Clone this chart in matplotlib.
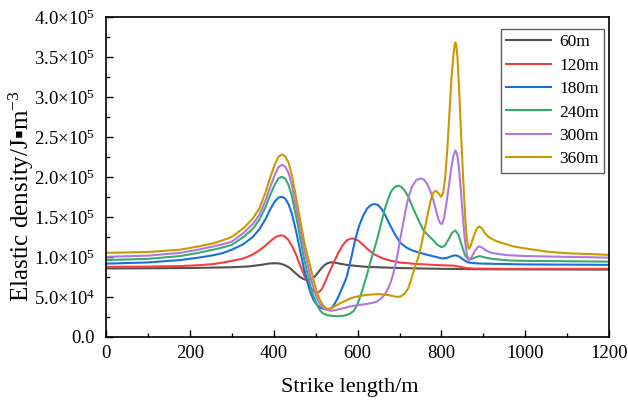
import math
import matplotlib
matplotlib.use("Agg")
import matplotlib.pyplot as plt
from matplotlib.ticker import FuncFormatter, MultipleLocator, AutoMinorLocator

plt.rcParams['font.family'] = ['Liberation Serif', 'DejaVu Sans']
plt.rcParams['mathtext.fontset'] = 'custom'
plt.rcParams['mathtext.rm'] = 'Liberation Serif'
plt.rcParams['mathtext.it'] = 'Liberation Serif:italic'

labels = ['60m', '120m', '180m', '240m', '300m', '360m']
colors = ['#515151', '#F14040', '#1A6FDF', '#37AD6B', '#B177DE', '#CC9900']

# values in units of 1e5 J/m^3
x60 = [0, 100, 200, 300, 340, 370, 390, 403, 413, 425, 437, 450, 462, 472, 480, 488, 497, 505, 514, 522, 530, 538, 548, 560, 580, 620, 700, 800, 900, 1000, 1200]
y60 = [0.855, 0.857, 0.86, 0.87, 0.88, 0.90, 0.917, 0.92, 0.917, 0.90, 0.865, 0.805, 0.75, 0.72, 0.71, 0.72, 0.75, 0.80, 0.86, 0.90, 0.925, 0.932, 0.925, 0.912, 0.895, 0.875, 0.86, 0.85, 0.845, 0.843, 0.84]

x120 = [0, 100, 177, 220, 256, 280, 300, 328, 350, 365, 380, 395, 405, 417, 425, 435, 445, 453, 460, 468, 475, 483, 490, 497, 503, 509, 515, 522, 530, 542, 555, 565, 575, 585, 593, 602, 612, 625, 640, 660, 680, 700, 741, 800, 830, 845, 860, 880, 950, 1200]
y120 = [0.875, 0.878, 0.885, 0.895, 0.91, 0.93, 0.95, 0.98, 1.03, 1.08, 1.14, 1.21, 1.25, 1.27, 1.26, 1.21, 1.12, 1.03, 0.93, 0.83, 0.74, 0.66, 0.60, 0.565, 0.555, 0.565, 0.60, 0.68, 0.78, 0.92, 1.06, 1.15, 1.21, 1.23, 1.225, 1.20, 1.155, 1.09, 1.03, 0.98, 0.95, 0.93, 0.91, 0.895, 0.89, 0.875, 0.86, 0.853, 0.85, 0.85]

x180 = [0, 100, 177, 220, 256, 280, 300, 328, 350, 365, 380, 392, 402, 411, 419, 427, 435, 443, 451, 458, 465, 472, 480, 487, 495, 503, 512, 522, 530, 538, 546, 554, 562, 568, 574, 584, 594, 603, 612, 622, 632, 640, 648, 657, 667, 677, 688, 701, 715, 730, 749, 770, 790, 801, 812, 822, 833, 842, 852, 864, 880, 900, 1000, 1200]
y180 = [0.915, 0.93, 0.96, 0.99, 1.02, 1.05, 1.09, 1.16, 1.25, 1.34, 1.47, 1.60, 1.69, 1.74, 1.75, 1.73, 1.66, 1.54, 1.37, 1.20, 1.02, 0.85, 0.69, 0.56, 0.46, 0.40, 0.36, 0.345, 0.34, 0.36, 0.42, 0.50, 0.60, 0.67, 0.75, 0.97, 1.21, 1.38, 1.50, 1.60, 1.65, 1.66, 1.65, 1.60, 1.51, 1.40, 1.29, 1.18, 1.12, 1.08, 1.05, 1.02, 0.995, 0.98, 0.985, 1.005, 1.02, 1.005, 0.965, 0.93, 0.92, 0.915, 0.905, 0.90]

x240 = [0, 100, 177, 220, 256, 280, 300, 328, 350, 365, 380, 392, 402, 411, 419, 427, 435, 443, 451, 458, 465, 472, 480, 487, 495, 503, 510, 518, 528, 542, 555, 568, 580, 590, 597, 604, 614, 622, 630, 638, 646, 656, 665, 673, 680, 688, 696, 704, 712, 722, 732, 745, 757, 768, 780, 790, 801, 808, 816, 825, 833, 840, 848, 856, 864, 872, 882, 892, 905, 920, 960, 1000, 1100, 1200]
y240 = [0.96, 0.975, 1.01, 1.05, 1.09, 1.12, 1.15, 1.25, 1.35, 1.46, 1.62, 1.78, 1.90, 1.98, 2.00, 1.98, 1.90, 1.76, 1.56, 1.38, 1.18, 0.98, 0.80, 0.64, 0.50, 0.40, 0.33, 0.29, 0.27, 0.26, 0.258, 0.265, 0.285, 0.32, 0.38, 0.47, 0.63, 0.77, 0.93, 1.07, 1.21, 1.42, 1.60, 1.73, 1.82, 1.87, 1.89, 1.875, 1.83, 1.74, 1.61, 1.46, 1.33, 1.27, 1.21, 1.15, 1.12, 1.14, 1.21, 1.30, 1.33, 1.28, 1.15, 1.02, 0.97, 0.975, 0.995, 1.01, 0.99, 0.975, 0.955, 0.95, 0.945, 0.94]

x300 = [0, 100, 177, 220, 256, 280, 300, 328, 350, 365, 380, 392, 402, 411, 419, 427, 435, 443, 451, 458, 465, 472, 480, 487, 495, 503, 510, 518, 528, 538, 560, 582, 600, 620, 635, 646, 656, 665, 672, 678, 684, 690, 696, 701, 708, 715, 722, 730, 740, 750, 758, 765, 772, 780, 786, 792, 797, 801, 806, 812, 818, 823, 828, 833, 837, 841, 846, 851, 856, 861, 866, 872, 880, 888, 896, 906, 916, 935, 960, 1000, 1100, 1200]
y300 = [1.00, 1.015, 1.05, 1.09, 1.13, 1.16, 1.19, 1.30, 1.41, 1.52, 1.70, 1.88, 2.02, 2.12, 2.15, 2.13, 2.05, 1.90, 1.68, 1.49, 1.30, 1.10, 0.92, 0.76, 0.60, 0.48, 0.41, 0.36, 0.335, 0.325, 0.35, 0.38, 0.395, 0.41, 0.425, 0.44, 0.48, 0.53, 0.60, 0.67, 0.77, 0.90, 1.05, 1.21, 1.40, 1.60, 1.76, 1.88, 1.96, 1.98, 1.965, 1.92, 1.84, 1.72, 1.60, 1.48, 1.42, 1.41, 1.48, 1.68, 1.90, 2.10, 2.25, 2.33, 2.29, 2.15, 1.85, 1.50, 1.20, 1.02, 0.96, 1.00, 1.08, 1.13, 1.12, 1.08, 1.055, 1.035, 1.02, 1.01, 1.00, 0.99]

x360 = [0, 100, 177, 220, 256, 280, 300, 328, 350, 365, 380, 392, 402, 411, 419, 427, 435, 443, 451, 458, 465, 472, 480, 487, 495, 503, 510, 518, 526, 533, 540, 555, 570, 585, 600, 622, 650, 670, 685, 695, 703, 712, 720, 728, 736, 745, 752, 760, 767, 774, 780, 786, 792, 799, 804, 809, 814, 819, 824, 828, 831, 833, 835, 838, 842, 847, 852, 857, 861, 865, 870, 877, 884, 890, 896, 903, 912, 925, 940, 972, 1000, 1051, 1100, 1150, 1200]
y360 = [1.05, 1.06, 1.09, 1.13, 1.17, 1.21, 1.25, 1.36, 1.48, 1.60, 1.80, 2.00, 2.15, 2.25, 2.28, 2.26, 2.18, 2.02, 1.80, 1.60, 1.40, 1.20, 1.02, 0.88, 0.70, 0.55, 0.46, 0.39, 0.35, 0.35, 0.365, 0.41, 0.45, 0.485, 0.505, 0.525, 0.535, 0.525, 0.508, 0.50, 0.505, 0.54, 0.60, 0.72, 0.86, 1.00, 1.15, 1.35, 1.53, 1.70, 1.80, 1.825, 1.80, 1.75, 1.80, 2.00, 2.35, 2.80, 3.25, 3.50, 3.64, 3.68, 3.66, 3.50, 3.10, 2.50, 1.95, 1.46, 1.20, 1.10, 1.14, 1.26, 1.35, 1.38, 1.36, 1.30, 1.25, 1.21, 1.18, 1.13, 1.105, 1.065, 1.045, 1.035, 1.025]

xs = [x60, x120, x180, x240, x300, x360]
ys = [y60, y120, y180, y240, y300, y360]
scale = 1e5

fig = plt.figure(figsize=(6.28, 4.01), dpi=100)
ax = fig.add_axes([0.169, 0.160, 0.801, 0.798])

for xv, yv, lab, col in zip(xs, ys, labels, colors):
    ax.plot(xv, [v * scale for v in yv], color=col, lw=1.5, label=lab,
            solid_joinstyle='round')

ax.set_xlim(0, 1200)
ax.set_ylim(0, 4.0e5)
ax.xaxis.set_major_locator(MultipleLocator(200))
ax.xaxis.set_minor_locator(AutoMinorLocator(2))
ax.yaxis.set_major_locator(MultipleLocator(50000))
ax.yaxis.set_minor_locator(AutoMinorLocator(2))


def yfmt(v, pos):
    if v == 0:
        return '0.0'
    e = int(math.floor(math.log10(abs(v)) + 1e-9))
    m = v / 10 ** e
    return '%.1f\u00d710$^{%d}$' % (m, e)


ax.yaxis.set_major_formatter(FuncFormatter(yfmt))
ax.tick_params(axis='both', which='both', direction='in', labelsize=13.5, top=False, right=False)
ax.tick_params(which='major', length=5, width=1.0)
ax.tick_params(which='minor', length=3, width=1.0)
ax.tick_params(axis='x', which='major', pad=6)
ax.tick_params(axis='y', which='major', pad=8)
for s in ax.spines.values():
    s.set_linewidth(1.2)

ax.set_xlabel('Strike length/m', fontsize=16)
ax.xaxis.set_label_coords(0.485, -0.13)
ax.set_ylabel('Elastic density/J\u25AAm$^{-3}$', fontsize=18)
ax.yaxis.set_label_coords(-0.14, 0.44)

leg = ax.legend(loc='upper right', bbox_to_anchor=(0.990, 0.9625), fontsize=12.5,
                frameon=True, fancybox=False, edgecolor='#333333', handlelength=2.6,
                borderaxespad=0.0, labelspacing=0.42, handletextpad=0.45, borderpad=0.3)
leg.get_frame().set_linewidth(1.0)

fig.savefig('out.png', dpi=100)
